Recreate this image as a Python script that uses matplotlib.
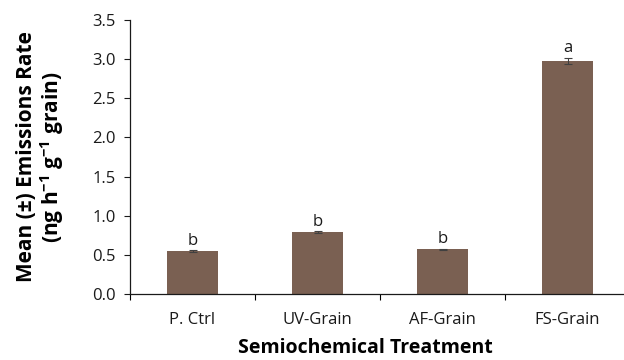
import matplotlib
matplotlib.use("Agg")
import matplotlib.pyplot as plt
import numpy as np

treatments = ["P. Ctrl", "UV-Grain", "AF-Grain", "FS-Grain"]
means = [0.55, 0.79, 0.57, 2.98]
errors = [0.01, 0.01, 0.01, 0.04]
letters = ["b", "b", "b", "a"]

plt.rcParams["font.family"] = "Open Sans"
plt.rcParams["mathtext.fontset"] = "custom"
plt.rcParams["mathtext.rm"] = "Open Sans:bold"
plt.rcParams["mathtext.it"] = "Open Sans:bold"
plt.rcParams["mathtext.bf"] = "Open Sans:bold"

fig = plt.figure(figsize=(6.24, 3.6), dpi=100)
ax = fig.add_axes([130 / 624, 1 - 294 / 360, 500 / 624, 274 / 360])

x = np.arange(len(treatments))
ax.bar(x, means, width=0.41, color="#7a6052", yerr=errors, capsize=3,
       error_kw=dict(ecolor="#404040", elinewidth=0.8, capthick=0.8))

for xi, m, e, l in zip(x, means, errors, letters):
    ax.text(xi, m + e + 0.02, l, ha="center", va="bottom", fontsize=12, color="#1a1a1a")

ax.set_xlim(-0.5, 3.5)
ax.set_ylim(0, 3.5)
ax.set_yticks(np.arange(0, 3.51, 0.5))
ax.set_yticklabels(["%.1f" % v for v in np.arange(0, 3.51, 0.5)])
ax.set_xticks(x)
ax.set_xticklabels(treatments)
ax.set_xticks(np.arange(-0.5, 3.6, 1), minor=True)
ax.tick_params(axis="x", which="major", length=0, pad=13, labelsize=12, colors="#1a1a1a")
ax.tick_params(axis="x", which="minor", length=4.5, width=0.8, direction="out")
ax.tick_params(axis="y", length=4.5, width=0.8, direction="out", labelsize=12, colors="#1a1a1a", pad=6)

for s in ["top", "right"]:
    ax.spines[s].set_visible(False)
for s in ["left", "bottom"]:
    ax.spines[s].set_linewidth(0.9)
    ax.spines[s].set_color("#1a1a1a")

ax.set_xlabel("Semiochemical Treatment", fontsize=14, fontweight="bold", labelpad=4)
ax.xaxis.set_label_coords((365 - 130) / 500, -0.16)
ax.xaxis.label.set_va("top")
ax.set_ylabel("Mean (±) Emissions Rate\n(ng h$^{-1}$ g$^{-1}$ grain)", fontsize=15,
              fontweight="bold", linespacing=1.05)
ax.yaxis.set_label_coords((66 - 130) / 500, 0.5)

fig.savefig("out.png", dpi=100)
